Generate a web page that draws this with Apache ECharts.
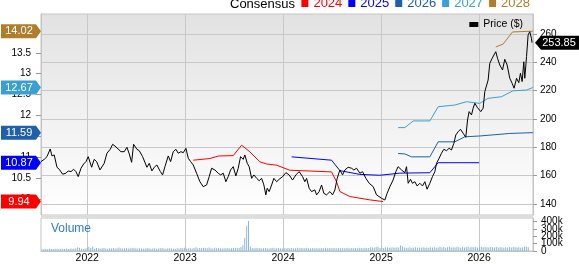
<!DOCTYPE html>
<html>
<head>
<meta charset="utf-8">
<script src="https://cdn.jsdelivr.net/npm/echarts@6/dist/echarts.min.js"></script>
<style>
  html, body { margin: 0; padding: 0; background: #fff; }
  #chart { width: 579px; height: 264px; }
</style>
</head>
<body>
<div id="chart"></div>
<script>
// axis ticks
const yearTicks = [2022, 2023, 2024, 2025, 2026];
const priceTicks = [140, 160, 180, 200, 220, 240, 260];
const epsTicks = [10, 10.5, 11, 11.5, 12, 12.5, 13, 13.5];
const volumeTicks = [0, 100000, 200000, 300000, 400000];

// weekly close (decimal year / $)
const priceDates = [
  2021.528, 2021.561, 2021.589, 2021.622, 2021.640, 2021.663, 2021.691, 2021.714, 2021.749, 2021.783,
  2021.806, 2021.834, 2021.861, 2021.885, 2021.908, 2021.936, 2021.963, 2021.987, 2022.010, 2022.045,
  2022.071, 2022.096, 2022.130, 2022.173, 2022.201, 2022.235, 2022.259, 2022.283, 2022.303, 2022.344,
  2022.378, 2022.405, 2022.429, 2022.453, 2022.473, 2022.507, 2022.531, 2022.565, 2022.582, 2022.609,
  2022.633, 2022.660, 2022.684, 2022.711, 2022.745, 2022.769, 2022.793, 2022.827, 2022.851, 2022.878,
  2022.905, 2022.929, 2022.956, 2022.980, 2023.007, 2023.031, 2023.055, 2023.082, 2023.116, 2023.150,
  2023.184, 2023.218, 2023.245, 2023.269, 2023.303, 2023.337, 2023.361, 2023.388, 2023.415, 2023.439,
  2023.463, 2023.490, 2023.517, 2023.541, 2023.565, 2023.592, 2023.609, 2023.633, 2023.653, 2023.678,
  2023.701, 2023.729, 2023.755, 2023.780, 2023.803, 2023.823, 2023.837, 2023.857, 2023.882, 2023.905,
  2023.933, 2023.959, 2023.994, 2024.028, 2024.061, 2024.096, 2024.130, 2024.163, 2024.198, 2024.221,
  2024.239, 2024.265, 2024.290, 2024.323, 2024.341, 2024.367, 2024.392, 2024.415, 2024.443, 2024.477,
  2024.504, 2024.528, 2024.551, 2024.579, 2024.606, 2024.630, 2024.663, 2024.698, 2024.721, 2024.749,
  2024.783, 2024.810, 2024.844, 2024.878, 2024.919, 2024.953, 2025.004, 2025.038, 2025.061, 2025.089,
  2025.122, 2025.150, 2025.173, 2025.191, 2025.208, 2025.224, 2025.242, 2025.259, 2025.276, 2025.300,
  2025.320, 2025.344, 2025.367, 2025.395, 2025.422, 2025.446, 2025.469, 2025.497, 2025.524, 2025.548,
  2025.565, 2025.592, 2025.616, 2025.640, 2025.667, 2025.694, 2025.718, 2025.742, 2025.762, 2025.786,
  2025.810, 2025.837, 2025.864, 2025.882, 2025.898, 2025.922, 2025.939, 2025.956, 2025.980, 2026.000,
  2026.017, 2026.041, 2026.058, 2026.076, 2026.092, 2026.109, 2026.133, 2026.150, 2026.170, 2026.188,
  2026.211, 2026.239, 2026.262, 2026.286, 2026.313, 2026.337, 2026.357, 2026.382, 2026.405, 2026.422,
  2026.439, 2026.456, 2026.466, 2026.484, 2026.500, 2026.517, 2026.534, 2026.540
];
const priceValues = [
  169.9, 171.5, 173.4, 178.8, 173.9, 174.6, 165.9, 164.5, 161.0, 161.7,
  163.3, 162.8, 164.5, 162.8, 159.3, 165.2, 168.2, 169.9, 173.4, 165.9,
  171.5, 169.9, 164.0, 168.7, 175.8, 178.6, 182.1, 180.9, 181.6, 176.9,
  176.9, 180.0, 175.3, 169.4, 182.1, 178.6, 177.6, 173.4, 174.6, 165.9,
  168.7, 163.3, 165.9, 167.5, 163.0, 160.5, 166.3, 173.9, 169.9, 176.9,
  178.6, 175.8, 176.9, 176.2, 179.3, 172.3, 169.9, 167.5, 161.7, 155.7,
  152.2, 153.4, 159.3, 165.2, 164.0, 161.7, 160.5, 161.7, 155.7, 159.3,
  164.0, 166.3, 159.8, 165.2, 173.4, 171.5, 174.6, 168.7, 166.3, 158.1,
  160.5, 158.1, 156.4, 158.1, 153.4, 146.4, 151.1, 148.7, 153.4, 158.1,
  155.7, 157.4, 159.3, 162.1, 160.5, 156.9, 160.5, 162.8, 159.3, 155.7,
  158.1, 151.1, 148.7, 149.9, 146.4, 148.7, 153.4, 147.5, 146.4, 148.7,
  146.4, 149.9, 158.1, 164.0, 160.5, 164.0, 165.9, 165.2, 164.0, 165.2,
  161.7, 162.8, 158.1, 154.6, 152.2, 146.4, 144.0, 142.8, 147.5, 152.2,
  156.9, 162.8, 166.3, 166.8, 164.0, 165.2, 162.1, 166.3, 154.6, 157.4,
  154.6, 155.7, 152.7, 154.6, 152.7, 155.7, 150.4, 154.6, 159.3, 162.8,
  168.7, 172.3, 175.8, 178.6, 177.6, 179.3, 178.1, 182.8, 188.7, 191.0,
  192.7, 189.9, 187.1, 199.3, 205.2, 202.8, 207.6, 211.1, 208.3, 209.2,
  205.2, 207.6, 219.3, 220.5, 227.5, 239.3, 242.8, 241.6, 247.5, 242.8,
  238.1, 234.6, 242.1, 238.1, 228.7, 225.2, 221.7, 228.7, 225.6, 232.3,
  226.4, 240.4, 228.7, 244.0, 259.3, 261.6, 257.0, 253.85
];

// consensus EPS per fiscal year
const eps2024Dates = [2023.082, 2023.252, 2023.337, 2023.490, 2023.576, 2023.660, 2023.762, 2023.831, 2023.933, 2024.068, 2024.494, 2024.545, 2024.579, 2024.681, 2024.885, 2025.020];
const eps2024Values = [10.93, 10.97, 11.03, 11.04, 11.29, 11.13, 10.89, 10.84, 10.81, 10.69, 10.65, 10.41, 10.18, 10.06, 9.98, 9.94];
const eps2025Dates = [2024.086, 2024.494, 2024.579, 2024.783, 2024.987, 2025.191, 2025.497, 2025.582, 2026.000];
const eps2025Values = [11.01, 10.93, 10.68, 10.59, 10.57, 10.62, 10.63, 10.87, 10.87];
const eps2026Dates = [2025.173, 2025.242, 2025.310, 2025.497, 2025.582, 2025.752, 2025.854, 2026.007, 2026.313, 2026.548];
const eps2026Values = [11.09, 11.08, 11.01, 11.01, 11.37, 11.37, 11.49, 11.51, 11.57, 11.59];
const eps2027Dates = [2025.173, 2025.242, 2025.327, 2025.497, 2025.582, 2025.752, 2025.871, 2026.007, 2026.089, 2026.229, 2026.344, 2026.484, 2026.548];
const eps2027Values = [11.71, 11.71, 11.87, 11.87, 12.21, 12.25, 12.33, 12.29, 12.41, 12.45, 12.59, 12.61, 12.67];
const eps2028Dates = [2026.170, 2026.245, 2026.341, 2026.548];
const eps2028Values = [13.64, 13.71, 14.00, 14.02];

// weekly volume (thousands), first week starting mid-2021
const volumeStart = 2021.538;
const volumeK = [
  22, 25, 28, 24, 30, 26, 27, 31, 25, 28, 30, 27, 29, 33, 28, 31, 35, 30, 38, 52, 45, 30, 28, 33, 40, 55,
  40, 62, 30, 42, 38, 33, 36, 40, 34, 30, 38, 35, 41, 33, 37, 48, 36, 34, 39, 42, 35, 38, 46, 40, 36, 33,
  38, 35, 30, 33, 41, 36, 32, 35, 38, 30, 34, 37, 42, 35, 31, 36, 39, 33, 35, 30, 37, 34, 41, 36, 45, 32,
  35, 38, 33, 40, 52, 36, 42, 38, 45, 40, 37, 48, 39, 35, 43, 38, 41, 36, 34, 39, 37, 42, 35, 38, 40, 44,
  42, 40, 55, 80, 180, 345, 410, 60, 42, 38, 45, 36, 40, 34, 38, 42, 37, 35, 40, 44, 38, 36, 41, 39, 35, 37,
  36, 40, 38, 42, 35, 39, 44, 37, 41, 38, 36, 43, 39, 35, 40, 37, 42, 38, 36, 41, 39, 44, 37, 40, 38, 42,
  39, 36, 41, 38, 43, 37, 40, 45, 38, 42, 36, 40, 39, 44, 41, 38, 46, 42, 40, 52, 48, 44, 55, 58, 40, 45,
  42, 50, 47, 44, 48, 52, 45, 50, 47, 78, 60, 48, 44, 46, 50, 43, 47, 52, 45, 49, 44, 51, 46, 48, 45, 50,
  47, 52, 45, 49, 60, 48, 53, 46, 50, 55, 47, 51, 48, 58, 50, 46, 53, 49, 56, 62, 48, 54, 50, 57, 46, 52,
  54, 50, 56, 52, 48, 55, 51, 49, 53, 47, 52, 50, 46, 51, 48, 53, 49, 55, 50, 47, 52, 48, 51, 58, 60, 50
];

const font = '"Liberation Sans", Arial, sans-serif';
const zip = (xs, ys) => xs.map((x, i) => [x, ys[i]]);

const consensus = [
  { name: '2024', color: '#ff0000', dates: eps2024Dates, values: eps2024Values },
  { name: '2025', color: '#0000ff', dates: eps2025Dates, values: eps2025Values },
  { name: '2026', color: '#1f5fab', dates: eps2026Dates, values: eps2026Values },
  { name: '2027', color: '#3a9fd2', dates: eps2027Dates, values: eps2027Values },
  { name: '2028', color: '#b07d2c', dates: eps2028Dates, values: eps2028Values }
];

const chart = echarts.init(document.getElementById('chart'));

const xRange = { min: 2021.528, max: 2026.55 };
const gridLine = { show: true, lineStyle: { color: '#c8c8c8', width: 1 } };

const option = {
  animation: false,
  title: {
    text: 'Consensus',
    left: 230, top: -2, padding: 0,
    textStyle: { fontFamily: font, fontSize: 13, fontWeight: 'normal', color: '#000' }
  },
  legend: [
    {
      data: consensus.map(c => ({ name: c.name, textStyle: { color: c.color } })),
      right: 49, top: -3, padding: 0,
      icon: 'rect', itemWidth: 7, itemHeight: 7, itemGap: 6,
      selectedMode: false,
      textStyle: { fontFamily: font, fontSize: 13 }
    },
    {
      data: ['Price ($)'],
      right: 56, top: 19, padding: 0,
      icon: 'rect', itemWidth: 9, itemHeight: 5,
      selectedMode: false,
      textStyle: { fontFamily: font, fontSize: 10.5, color: '#000' }
    }
  ],
  grid: [
    {
      left: 41, right: 46, top: 14, height: 201,
      show: true, borderColor: '#c4c4c4', borderWidth: 1,
      backgroundColor: new echarts.graphic.LinearGradient(0, 0, 0, 1, [
        { offset: 0, color: '#e2e2e2' },
        { offset: 1, color: '#ffffff' }
      ])
    },
    {
      left: 41, right: 46, top: 218, height: 35,
      show: true, borderColor: '#c4c4c4', borderWidth: 1, backgroundColor: '#fff'
    }
  ],
  xAxis: [
    {
      type: 'value', gridIndex: 0, ...xRange,
      axisLine: { show: false },
      axisTick: { show: false, customValues: yearTicks },
      axisLabel: { show: false },
      splitLine: gridLine
    },
    {
      type: 'value', gridIndex: 1, ...xRange,
      axisLine: { show: true, lineStyle: { color: '#c4c4c4' } },
      axisTick: { show: false, customValues: yearTicks },
      axisLabel: {
        customValues: yearTicks, formatter: v => String(v),
        fontFamily: font, fontSize: 10.5, color: '#000', margin: 2
      },
      splitLine: gridLine
    }
  ],
  yAxis: [
    {
      type: 'value', gridIndex: 0, position: 'left', min: 9.618, max: 14.43,
      axisLine: { show: true, lineStyle: { color: '#c4c4c4' } },
      axisTick: { show: true, length: 5, customValues: epsTicks, lineStyle: { color: '#999' } },
      axisLabel: {
        customValues: epsTicks, formatter: v => String(v),
        fontFamily: font, fontSize: 10, color: '#000', margin: 10
      },
      splitLine: { show: false }
    },
    {
      type: 'value', gridIndex: 0, position: 'right', min: 132.2, max: 274.1,
      axisLine: { show: true, lineStyle: { color: '#c4c4c4' } },
      axisTick: { show: true, length: 4, customValues: priceTicks, lineStyle: { color: '#999' } },
      axisLabel: {
        customValues: priceTicks, formatter: v => String(v),
        fontFamily: font, fontSize: 10, color: '#000', margin: 7
      },
      splitLine: gridLine
    },
    {
      type: 'value', gridIndex: 1, position: 'right', min: 0, max: 451000,
      axisLine: { show: true, lineStyle: { color: '#c4c4c4' } },
      axisTick: { show: true, length: 4, customValues: volumeTicks, lineStyle: { color: '#999' } },
      axisLabel: { show: false },
      splitLine: { show: false }
    }
  ],
  series: [
    {
      name: 'Volume', type: 'bar', xAxisIndex: 1, yAxisIndex: 2,
      barWidth: 1, color: '#8ab8de',
      data: volumeK.map((v, i) => [volumeStart + i / 52.18, v * 1000])
    },
    ...consensus.map(c => ({
      name: c.name, type: 'line', xAxisIndex: 0, yAxisIndex: 0,
      color: c.color, showSymbol: false, lineStyle: { width: 1, color: c.color },
      data: zip(c.dates, c.values), z: 3
    })),
    {
      name: 'Price ($)', type: 'line', xAxisIndex: 0, yAxisIndex: 1,
      color: '#000', showSymbol: false, lineStyle: { width: 1, color: '#000' },
      data: zip(priceDates, priceValues), z: 4
    }
  ]
};

chart.setOption(option);

// value tags on the axes, placed through the axis scales
const tags = [];
consensus.forEach(c => {
  const v = c.values[c.values.length - 1];
  const y = chart.convertToPixel({ yAxisIndex: 0 }, v);
  tags.push({
    type: 'polygon', z: 100, zlevel: 1,
    shape: { points: [[1, y - 7], [36, y - 7], [41, y], [36, y + 7], [1, y + 7]] },
    style: { fill: c.color }
  });
  tags.push({
    type: 'text', z: 101, zlevel: 1, x: 19, y: y,
    style: { text: v.toFixed(2), fill: '#fff', font: '11px ' + font, align: 'center', verticalAlign: 'middle' }
  });
});
const lastPrice = priceValues[priceValues.length - 1];
const py = chart.convertToPixel({ yAxisIndex: 1 }, lastPrice);
tags.push({
  type: 'polygon', z: 100, zlevel: 1,
  shape: { points: [[535, py], [541, py - 7], [579, py - 7], [579, py + 7], [541, py + 7]] },
  style: { fill: '#000' }
});
tags.push({
  type: 'text', z: 101, zlevel: 1, x: 559, y: py,
  style: { text: lastPrice.toFixed(2), fill: '#fff', font: '11px ' + font, align: 'center', verticalAlign: 'middle' }
});
// volume axis labels (cramped, so drawn directly at their scale positions)
volumeTicks.forEach(v => {
  const y = chart.convertToPixel({ yAxisIndex: 2 }, v);
  tags.push({
    type: 'text', z: 60, x: 541, y: y,
    style: { text: v === 0 ? '0' : (v / 1000) + 'k', fill: '#000', font: '10px ' + font, verticalAlign: 'middle' }
  });
});
tags.push({ type: 'rect', z: 50, shape: { x: 41, y: 215, width: 492, height: 3 }, style: { fill: '#dddddd' } });
tags.push({ type: 'text', z: 50, x: 51, y: 229, style: { text: 'Volume', fill: '#2a7ec4', font: '12px ' + font, verticalAlign: 'middle' } });

chart.setOption({ graphic: tags });
</script>
</body>
</html>
